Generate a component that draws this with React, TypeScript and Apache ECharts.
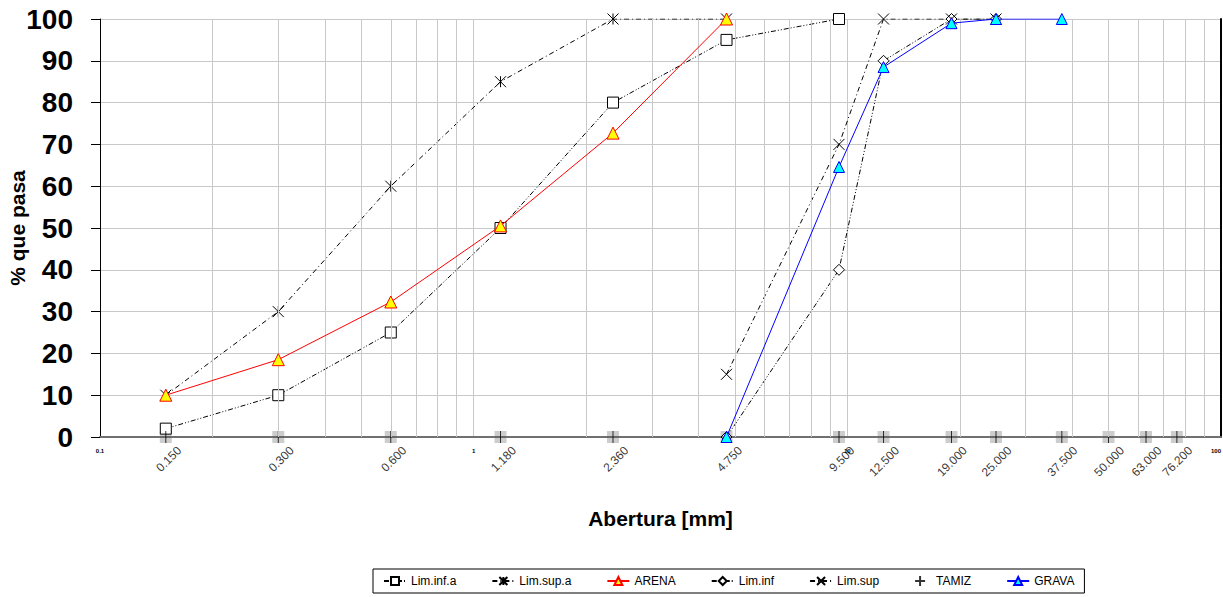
import React, { useEffect, useRef } from "react";
import * as echarts from "echarts";

// ---- data ----
const tamiz = [0.15, 0.3, 0.6, 1.18, 2.36, 4.75, 9.5, 12.5, 19, 25, 37.5, 50, 63, 76.2];

const limInfAX = [0.15, 0.3, 0.6, 1.18, 2.36, 4.75, 9.5];
const limInfAY = [2, 10, 25, 50, 80, 95, 100];

const limSupAX = [0.15, 0.3, 0.6, 1.18, 2.36, 4.75];
const limSupAY = [10, 30, 60, 85, 100, 100];

const arenaX = [0.15, 0.3, 0.6, 1.18, 2.36, 4.75];
const arenaY = [10, 18.5, 32.3, 50.5, 72.7, 100];

const limInfX = [4.75, 9.5, 12.5, 19, 25];
const limInfY = [0, 40, 90, 100, 100];

const limSupX = [4.75, 9.5, 12.5, 19, 25];
const limSupY = [15, 70, 100, 100, 100];

const gravaX = [4.75, 9.5, 12.5, 19, 25, 37.5];
const gravaY = [0, 64.6, 88.5, 99, 100, 100];

// minor log grid positions
const minorGrid = [0.2, 0.3, 0.4, 0.5, 0.6, 0.7, 0.8, 0.9, 2, 3, 4, 5, 6, 7, 8, 9, 20, 30, 40, 50, 60, 70, 80, 90];

const FONT = "'Liberation Sans', Arial, sans-serif";
const pairs = (xs: number[], ys: number[]) => xs.map((x, i) => [x, ys[i]]);

const ASTERISK = "path://M0,0L10,10M10,0L0,10M5,0L5,10";
const CROSS = "path://M0,0L10,10M10,0L0,10";
const PLUS = "path://M5,0L5,10M0,5L10,5";

export default function App() {
  const ref = useRef<HTMLDivElement>(null);
  useEffect(() => {
    if (!ref.current) return;
    const chart = echarts.init(ref.current, undefined, { renderer: "svg" });
    const dashDot = [5, 3, 1, 3];
    const dashDotDot = [5, 2, 1, 2, 1, 2];
    const blackLine = (name: string, data: number[][], symbol: string, size: number, fill: string, dash: number[]) => ({
      name,
      type: "line",
      data,
      symbol,
      symbolSize: size,
      showAllSymbol: true,
      z: 3,
      lineStyle: { color: "#000", width: 1, type: dash },
      itemStyle: { color: fill, borderColor: "#000", borderWidth: 1 },
      emphasis: { disabled: true },
    });
    chart.setOption({
      animation: false,
      grid: { left: 100, right: 2, top: 19, bottom: 160, containLabel: false, outerBoundsMode: "none" },
      legend: {
        data: ["Lim.inf.a", "Lim.sup.a", "ARENA", "Lim.inf", "Lim.sup", "TAMIZ", "GRAVA"],
        left: 373,
        top: 569,
        itemWidth: 22,
        itemHeight: 10,
        itemGap: 35,
        padding: [6, 10],
        borderColor: "#000",
        borderWidth: 1,
        textStyle: { fontFamily: FONT, fontSize: 12, color: "#000" },
      },
      xAxis: [
        {
          type: "log",
          logBase: 10,
          min: 0.1,
          max: 100,
          name: "Abertura [mm]",
          nameLocation: "middle",
          nameGap: 71,
          nameTextStyle: { fontFamily: FONT, fontSize: 21, fontWeight: "bold", color: "#000" },
          axisLine: { lineStyle: { color: "#000", width: 1 } },
          axisTick: { show: false },
          axisLabel: {
            fontFamily: FONT,
            fontSize: 6,
            fontWeight: "bold",
            color: "#000",
            margin: 11,
            showMaxLabel: true,
            showMinLabel: true,
            alignMaxLabel: "right",
          },
          splitLine: { show: true, lineStyle: { color: "#c8c8c8", width: 1 } },
        },
        {
          type: "log",
          logBase: 10,
          min: 0.1,
          max: 100,
          position: "top",
          axisLine: { show: true, lineStyle: { color: "#707070", width: 2 } },
          axisTick: { show: false },
          axisLabel: { show: false },
          splitLine: { show: false },
        },
      ],
      yAxis: [
        {
          type: "value",
          min: 0,
          max: 100,
          interval: 10,
          name: "% que pasa",
          nameLocation: "middle",
          nameGap: 72,
          nameMoveOverlap: false,
          nameTextStyle: { fontFamily: FONT, fontSize: 21, fontWeight: "bold", color: "#000" },
          axisLine: { show: true, lineStyle: { color: "#000", width: 1 } },
          axisTick: { show: true, length: 9, lineStyle: { color: "#000" } },
          axisLabel: { fontFamily: FONT, fontSize: 28, fontWeight: "bold", color: "#000", margin: 27 },
          splitLine: { show: true, lineStyle: { color: "#c8c8c8", width: 1 } },
        },
        {
          type: "value",
          min: 0,
          max: 100,
          position: "right",
          axisLine: { show: true, lineStyle: { color: "#000", width: 2 } },
          axisTick: { show: false },
          axisLabel: { show: false },
          splitLine: { show: false },
        },
      ],
      series: [
        {
          name: "tamizFondo",
          type: "scatter",
          data: tamiz.map((t) => [t, 0]),
          symbol: "rect",
          symbolSize: 12,
          z: 2,
          silent: true,
          itemStyle: { color: "#c0c0c0" },
          markLine: {
            silent: true,
            symbol: "none",
            label: { show: false },
            lineStyle: { color: "#c8c8c8", type: "solid", width: 1 },
            data: minorGrid.map((v) => ({ xAxis: v })),
          },
        },
        {
          name: "TAMIZ",
          type: "scatter",
          data: tamiz.map((t) => [t, 0]),
          symbol: PLUS,
          symbolSize: 12,
          z: 4,
          silent: true,
          itemStyle: { color: "#000", borderColor: "#000", borderWidth: 1 },
          label: {
            show: true,
            position: [20, 18],
            align: "right",
            verticalAlign: "middle",
            rotate: 45,
            fontFamily: FONT,
            fontSize: 12,
            color: "#000",
            textBorderWidth: 0,
            formatter: (p: any) => Number(p.value[0]).toFixed(3),
          },
        },
        blackLine("Lim.inf.a", pairs(limInfAX, limInfAY), "rect", 11, "#fff", dashDotDot),
        blackLine("Lim.sup.a", pairs(limSupAX, limSupAY), ASTERISK, 11, "#000", dashDot),
        {
          name: "ARENA",
          type: "line",
          data: pairs(arenaX, arenaY),
          symbol: "triangle",
          symbolSize: 12,
          z: 5,
          lineStyle: { color: "#ff0000", width: 1 },
          itemStyle: { color: "#ffff00", borderColor: "#ff0000", borderWidth: 1 },
          emphasis: { disabled: true },
        },
        blackLine("Lim.inf", pairs(limInfX, limInfY), "diamond", 11, "#fff", dashDotDot),
        blackLine("Lim.sup", pairs(limSupX, limSupY), CROSS, 11, "#000", dashDot),
        {
          name: "GRAVA",
          type: "line",
          data: pairs(gravaX, gravaY),
          symbol: "triangle",
          symbolSize: 11,
          z: 5,
          lineStyle: { color: "#0000ff", width: 1 },
          itemStyle: { color: "#00ffff", borderColor: "#0000ff", borderWidth: 1 },
          emphasis: { disabled: true },
        },
      ],
    });
    return () => chart.dispose();
  }, []);
  return (
    <div
      ref={ref}
      style={{ position: "fixed", left: 0, top: 0, width: 1223, height: 597, background: "#fff" }}
    />
  );
}
